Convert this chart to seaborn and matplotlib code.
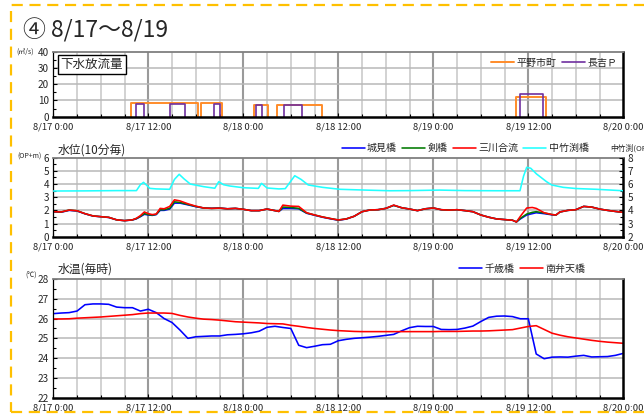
import numpy as np
import pandas as pd
import matplotlib
matplotlib.use("Agg")
import matplotlib.pyplot as plt
from matplotlib.patches import Rectangle
from matplotlib.lines import Line2D
from matplotlib.ticker import MultipleLocator
import seaborn as sns

sns.set_theme(style="white")
plt.rcParams['font.family'] = ['Noto Sans CJK JP', 'DejaVu Sans']

# ---------------- data (hours counted from 8/17 0:00) ----------------
x_ticks_h = [0, 12, 24, 36, 48, 60, 72]
x_labels = ["8/17 0:00", "8/17 12:00", "8/18 0:00", "8/18 12:00",
            "8/19 0:00", "8/19 12:00", "8/20 0:00"]

# 下水放流量 (m3/s): pumping periods
hirano_start = [9.8, 18.6, 25.4, 28.2, 58.4]
hirano_end = [18.3, 21.3, 27.1, 34.0, 62.2]
hirano_flow = [8.5, 8.5, 7.4, 7.4, 12.2]
nagayoshi_start = [10.45, 14.7, 20.3, 25.6, 29.1, 58.9]
nagayoshi_end = [11.5, 16.6, 21.05, 26.3, 31.4, 61.9]
nagayoshi_flow = [8.0, 8.0, 8.0, 7.2, 7.2, 13.8]

# 水位 (OP+m)
t_wl = [0, 1, 2, 3, 4, 5, 6, 7, 8, 9, 10, 10.5, 11, 11.5, 12, 12.5, 13, 13.5, 14,
        14.7, 15.3, 16, 17, 18, 19, 20, 21, 22, 23, 24, 25, 26, 27, 28, 28.5, 29,
        30, 31, 32, 33, 34, 35, 36, 37, 38, 39, 40, 41, 42, 43, 44, 45, 46, 47, 48,
        49, 50, 51, 52, 53, 54, 55, 56, 57, 58, 58.5, 59, 59.8, 60.5, 61, 62, 63,
        63.5, 64, 65, 66, 67, 68, 69, 70, 71, 72]
sanse = [1.90, 1.88, 2.02, 1.97, 1.75, 1.58, 1.52, 1.47, 1.28, 1.22, 1.28, 1.40,
         1.60, 1.88, 1.75, 1.68, 1.72, 2.15, 2.12, 2.30, 2.80, 2.72, 2.50, 2.32,
         2.18, 2.15, 2.17, 2.12, 2.15, 2.08, 1.98, 1.98, 2.10, 1.98, 1.92, 2.40,
         2.32, 2.30, 1.82, 1.65, 1.50, 1.38, 1.27, 1.35, 1.55, 1.90, 2.03, 2.05,
         2.15, 2.40, 2.20, 2.10, 1.98, 2.12, 2.18, 2.05, 2.02, 2.05, 1.98, 1.90,
         1.65, 1.48, 1.35, 1.30, 1.25, 1.12, 1.55, 2.18, 2.22, 2.15, 1.82, 1.68,
         1.65, 1.88, 2.00, 2.05, 2.30, 2.25, 2.10, 2.00, 1.92, 1.85]
tsurugi = [1.90, 1.88, 2.02, 1.97, 1.75, 1.58, 1.52, 1.47, 1.28, 1.22, 1.28, 1.38,
           1.55, 1.75, 1.68, 1.64, 1.70, 2.05, 2.05, 2.15, 2.65, 2.60, 2.45, 2.30,
           2.18, 2.15, 2.17, 2.12, 2.15, 2.08, 1.98, 1.98, 2.10, 1.98, 1.92, 2.25,
           2.22, 2.15, 1.80, 1.65, 1.50, 1.38, 1.27, 1.35, 1.55, 1.90, 2.03, 2.05,
           2.15, 2.38, 2.20, 2.10, 1.98, 2.12, 2.18, 2.05, 2.02, 2.05, 1.98, 1.90,
           1.65, 1.48, 1.35, 1.30, 1.25, 1.12, 1.40, 1.72, 1.85, 1.90, 1.80, 1.68,
           1.65, 1.88, 2.00, 2.05, 2.30, 2.25, 2.10, 2.00, 1.92, 1.85]
shiromi = [1.88, 1.86, 2.00, 1.95, 1.74, 1.57, 1.52, 1.46, 1.28, 1.22, 1.27, 1.36,
           1.52, 1.70, 1.65, 1.62, 1.68, 2.00, 2.00, 2.10, 2.55, 2.55, 2.42, 2.28,
           2.18, 2.16, 2.18, 2.12, 2.15, 2.08, 1.98, 1.98, 2.10, 1.98, 1.92, 2.15,
           2.15, 2.12, 1.78, 1.63, 1.48, 1.36, 1.25, 1.34, 1.55, 1.90, 2.03, 2.05,
           2.15, 2.38, 2.20, 2.10, 1.98, 2.12, 2.18, 2.05, 2.02, 2.05, 1.98, 1.90,
           1.65, 1.48, 1.35, 1.30, 1.25, 1.12, 1.35, 1.65, 1.75, 1.82, 1.75, 1.66,
           1.65, 1.88, 2.00, 2.05, 2.30, 2.25, 2.10, 2.00, 1.92, 1.85]

# 中竹渕橋 (right axis, OP+m)
t_naka = [0, 4, 8, 10.5, 11.0, 11.4, 12.2, 13, 14.7, 15.3, 15.9, 16.5, 17.3, 19,
          20.4, 20.9, 21.5, 22.3, 24, 25.9, 26.3, 27, 28.5, 29.3, 30.5, 31.3, 32.2,
          34, 36.2, 40, 42.5, 45, 48.8, 52, 56, 58.95, 59.4, 59.8, 60.3, 61.05,
          62.3, 62.95, 64.4, 66, 68.6, 72]
nakatakebuchi = [5.47, 5.48, 5.50, 5.50, 5.95, 6.13, 5.67, 5.63, 5.60, 6.35, 6.74,
                 6.40, 6.00, 5.80, 5.68, 6.18, 5.95, 5.85, 5.72, 5.67, 6.05, 5.70,
                 5.63, 5.65, 6.63, 6.35, 5.93, 5.75, 5.60, 5.53, 5.49, 5.50, 5.54,
                 5.50, 5.49, 5.49, 6.60, 7.27, 7.20, 6.76, 6.18, 5.93, 5.75, 5.66,
                 5.60, 5.49]

# 水温 (℃), hourly
t_temp = list(range(73))
chitose = [26.25, 26.28, 26.30, 26.38, 26.70, 26.74, 26.74, 26.72, 26.58, 26.55,
           26.55, 26.38, 26.47, 26.30, 26.00, 25.80, 25.42, 25.00, 25.08, 25.10,
           25.12, 25.12, 25.18, 25.20, 25.23, 25.28, 25.36, 25.56, 25.61, 25.55,
           25.50, 24.65, 24.53, 24.60, 24.68, 24.70, 24.88, 24.95, 25.00, 25.03,
           25.06, 25.10, 25.15, 25.20, 25.38, 25.54, 25.61, 25.60, 25.60, 25.45,
           25.44, 25.45, 25.52, 25.62, 25.85, 26.06, 26.12, 26.13, 26.10, 25.99,
           25.99, 24.21, 23.97, 24.05, 24.06, 24.05, 24.10, 24.14, 24.06, 24.07,
           24.08, 24.14, 24.24]
minamibenten = [25.98, 25.98, 25.99, 26.02, 26.04, 26.06, 26.08, 26.11, 26.14, 26.17,
                26.20, 26.25, 26.28, 26.28, 26.28, 26.26, 26.16, 26.08, 26.02, 25.97,
                25.95, 25.92, 25.88, 25.84, 25.82, 25.80, 25.78, 25.75, 25.74, 25.73,
                25.66, 25.61, 25.55, 25.50, 25.46, 25.42, 25.39, 25.37, 25.35, 25.34,
                25.34, 25.34, 25.34, 25.34, 25.34, 25.34, 25.34, 25.34, 25.34, 25.35,
                25.35, 25.35, 25.36, 25.37, 25.37, 25.38, 25.40, 25.42, 25.44, 25.52,
                25.60, 25.64, 25.45, 25.26, 25.16, 25.08, 25.02, 24.96, 24.90, 24.85,
                24.81, 24.78, 24.75]

# ---------------- styling ----------------
C_ORANGE = "#FF8C2A"
C_PURPLE = "#7030A0"
C_BLUE = "#0000FF"
C_GREEN = "#007A00"
C_RED = "#FF0000"
C_CYAN = "#22FFFF"
LW = 1.15
TICK_FS = 7.2
LBL_FS = 6.8
LEG_FS = 7.2

W, H = 644, 417
fig = plt.figure(figsize=(W / 100, H / 100), dpi=100)
fig.patch.set_facecolor("white")


def fig_rect(x0, y0, x1, y1):
    return [x0 / W, 1 - y1 / H, (x1 - x0) / W, (y1 - y0) / H]


def style_axes(ax, ymin, ymax, ystep, yminor, hgrid):
    ax.set_xlim(0, 72)
    ax.set_ylim(ymin, ymax)
    ax.set_facecolor("white")
    for xv in np.arange(3, 72, 3):
        major = xv % 12 == 0
        ax.axvline(xv, color="#9a9a9a" if major else "#cfcfcf",
                   lw=1.5 if major else 1.3, zorder=0)
    for yv in hgrid:
        ax.axhline(yv, color="#b8b8b8", lw=1.1, zorder=0)
    ax.set_xticks(x_ticks_h)
    ax.set_xticklabels(x_labels, fontsize=LBL_FS)
    ax.xaxis.set_minor_locator(MultipleLocator(3))
    ax.yaxis.set_major_locator(MultipleLocator(ystep))
    ax.yaxis.set_minor_locator(MultipleLocator(yminor))
    ax.tick_params(axis="both", which="major", direction="in", length=3,
                   width=0.8, color="black", labelsize=TICK_FS, pad=3)
    ax.tick_params(axis="both", which="minor", direction="in", length=2,
                   width=0.8, color="black")
    ax.tick_params(axis="x", which="major", pad=4.5, labelsize=LBL_FS)
    ax.tick_params(axis="y", left=True, right=False)
    ax.tick_params(axis="y", which="minor", left=True, right=False)
    ax.tick_params(axis="x", bottom=True, top=False)
    ax.tick_params(axis="x", which="minor", bottom=True, top=False)
    ax.set_xlabel("")
    ax.set_ylabel("")
    ax.spines["top"].set_color("#7f7f7f")
    ax.spines["top"].set_linewidth(1.3)
    ax.spines["left"].set_color("black")
    ax.spines["left"].set_linewidth(0.9)
    ax.spines["right"].set_color("black")
    ax.spines["right"].set_linewidth(1.8)
    ax.spines["bottom"].set_color("black")
    ax.spines["bottom"].set_linewidth(1.8)
    for s in ax.spines.values():
        s.set_visible(True)
        s.set_zorder(5)


leg_kw = dict(frameon=False, fontsize=LEG_FS, handlelength=2.3,
              handletextpad=0.25, columnspacing=0.5)

# ---------------- 下水放流量 ----------------
ax1 = fig.add_axes(fig_rect(53.3, 51.7, 623.3, 116.7))
for s, e, v in zip(hirano_start, hirano_end, hirano_flow):
    sns.lineplot(x=[s, s, e, e], y=[0, v, v, 0], sort=False, estimator=None,
                 color=C_ORANGE, lw=1.4, ax=ax1)
for s, e, v in zip(nagayoshi_start, nagayoshi_end, nagayoshi_flow):
    sns.lineplot(x=[s, s, e, e], y=[0, v, v, 0], sort=False, estimator=None,
                 color=C_PURPLE, lw=1.2, ax=ax1)
style_axes(ax1, 0, 40, 10, 5, [10, 20, 30])
ax1.text(0.013, 0.80, "下水放流量", transform=ax1.transAxes, fontsize=9,
         va="center", ha="left",
         bbox=dict(boxstyle="square,pad=0.25", fc="white", ec="black", lw=1.0),
         zorder=10)
h1 = [Line2D([], [], color=C_ORANGE, lw=1.4), Line2D([], [], color=C_PURPLE, lw=1.2)]
ax1.legend(h1, ["平野市町", "長吉Ｐ"], loc="center right",
           bbox_to_anchor=(0.996, 0.83), ncol=2, borderaxespad=0.0, **leg_kw)
fig.text(16 / W, 1 - 52 / H, "(㎥/s)", fontsize=5, va="center", ha="left")

# ---------------- 水位 ----------------
ax2 = fig.add_axes(fig_rect(53.3, 157.7, 623.3, 236.7))
wl = pd.DataFrame({"t": t_wl, "城見橋": shiromi, "剣橋": tsurugi, "三川合流": sanse})
for name, col in [("城見橋", C_BLUE), ("剣橋", C_GREEN), ("三川合流", C_RED)]:
    sns.lineplot(data=wl, x="t", y=name, color=col, lw=LW, ax=ax2)
style_axes(ax2, 0, 6, 1, 0.5, [1, 2, 3, 4, 5])
ax2r = ax2.twinx()
sns.lineplot(x=t_naka, y=nakatakebuchi, color=C_CYAN, lw=LW, ax=ax2r)
ax2r.set_ylim(2, 8)
ax2r.set_ylabel("")
ax2r.yaxis.set_major_locator(MultipleLocator(1))
ax2r.yaxis.set_minor_locator(MultipleLocator(0.5))
ax2r.tick_params(axis="y", which="major", direction="in", length=3, width=0.8,
                 color="black", labelsize=TICK_FS, pad=3)
ax2r.tick_params(axis="y", which="minor", direction="in", length=2, width=0.8,
                 color="black")
for s in ax2r.spines.values():
    s.set_visible(False)
ax2.text(0.008, 1.10, "水位(10分毎)", transform=ax2.transAxes, fontsize=8.5,
         va="center", ha="left")
fig.text(17 / W, 1 - 157 / H, "(OP+m)", fontsize=5, va="center", ha="left")
fig.text(610 / W, 1 - 148 / H, "中竹渕(OP+m)", fontsize=5.6, va="center", ha="left")
h2 = [Line2D([], [], color=c, lw=LW) for c in (C_BLUE, C_GREEN, C_RED, C_CYAN)]
ax2.legend(h2, ["城見橋", "剣橋", "三川合流", "中竹渕橋"], loc="center right",
           bbox_to_anchor=(0.946, 1.12), ncol=4, borderaxespad=0.0, **leg_kw)

# ---------------- 水温 ----------------
ax3 = fig.add_axes(fig_rect(53.3, 279, 623.3, 397.7))
wt = pd.DataFrame({"t": t_temp, "千歳橋": chitose, "南弁天橋": minamibenten})
sns.lineplot(data=wt, x="t", y="千歳橋", color=C_BLUE, lw=LW, ax=ax3)
sns.lineplot(data=wt, x="t", y="南弁天橋", color=C_RED, lw=LW, ax=ax3)
style_axes(ax3, 22, 28, 1, 0.5, [23, 24, 25, 26, 27])
ax3.text(0.008, 1.085, "水温(毎時)", transform=ax3.transAxes, fontsize=8.5,
         va="center", ha="left")
fig.text(25 / W, 1 - 276 / H, "(℃)", fontsize=5, va="center", ha="left")
h3 = [Line2D([], [], color=c, lw=LW) for c in (C_BLUE, C_RED)]
ax3.legend(h3, ["千歳橋", "南弁天橋"], loc="center right",
           bbox_to_anchor=(0.940, 1.085), ncol=2, borderaxespad=0.0, **leg_kw)

# ---------------- heading and frame ----------------
fig.text(23 / W, 1 - 30 / H, "④ 8/17～8/19", fontsize=16.5, va="center", ha="left")
fig.patches.append(Rectangle((11 / W, 5 / H), 1.2, 1 - 10 / H,
                             transform=fig.transFigure, fill=False,
                             ec="#FFC000", lw=1.6, ls=(0, (5, 3))))

fig.savefig("out.png", dpi=100)
